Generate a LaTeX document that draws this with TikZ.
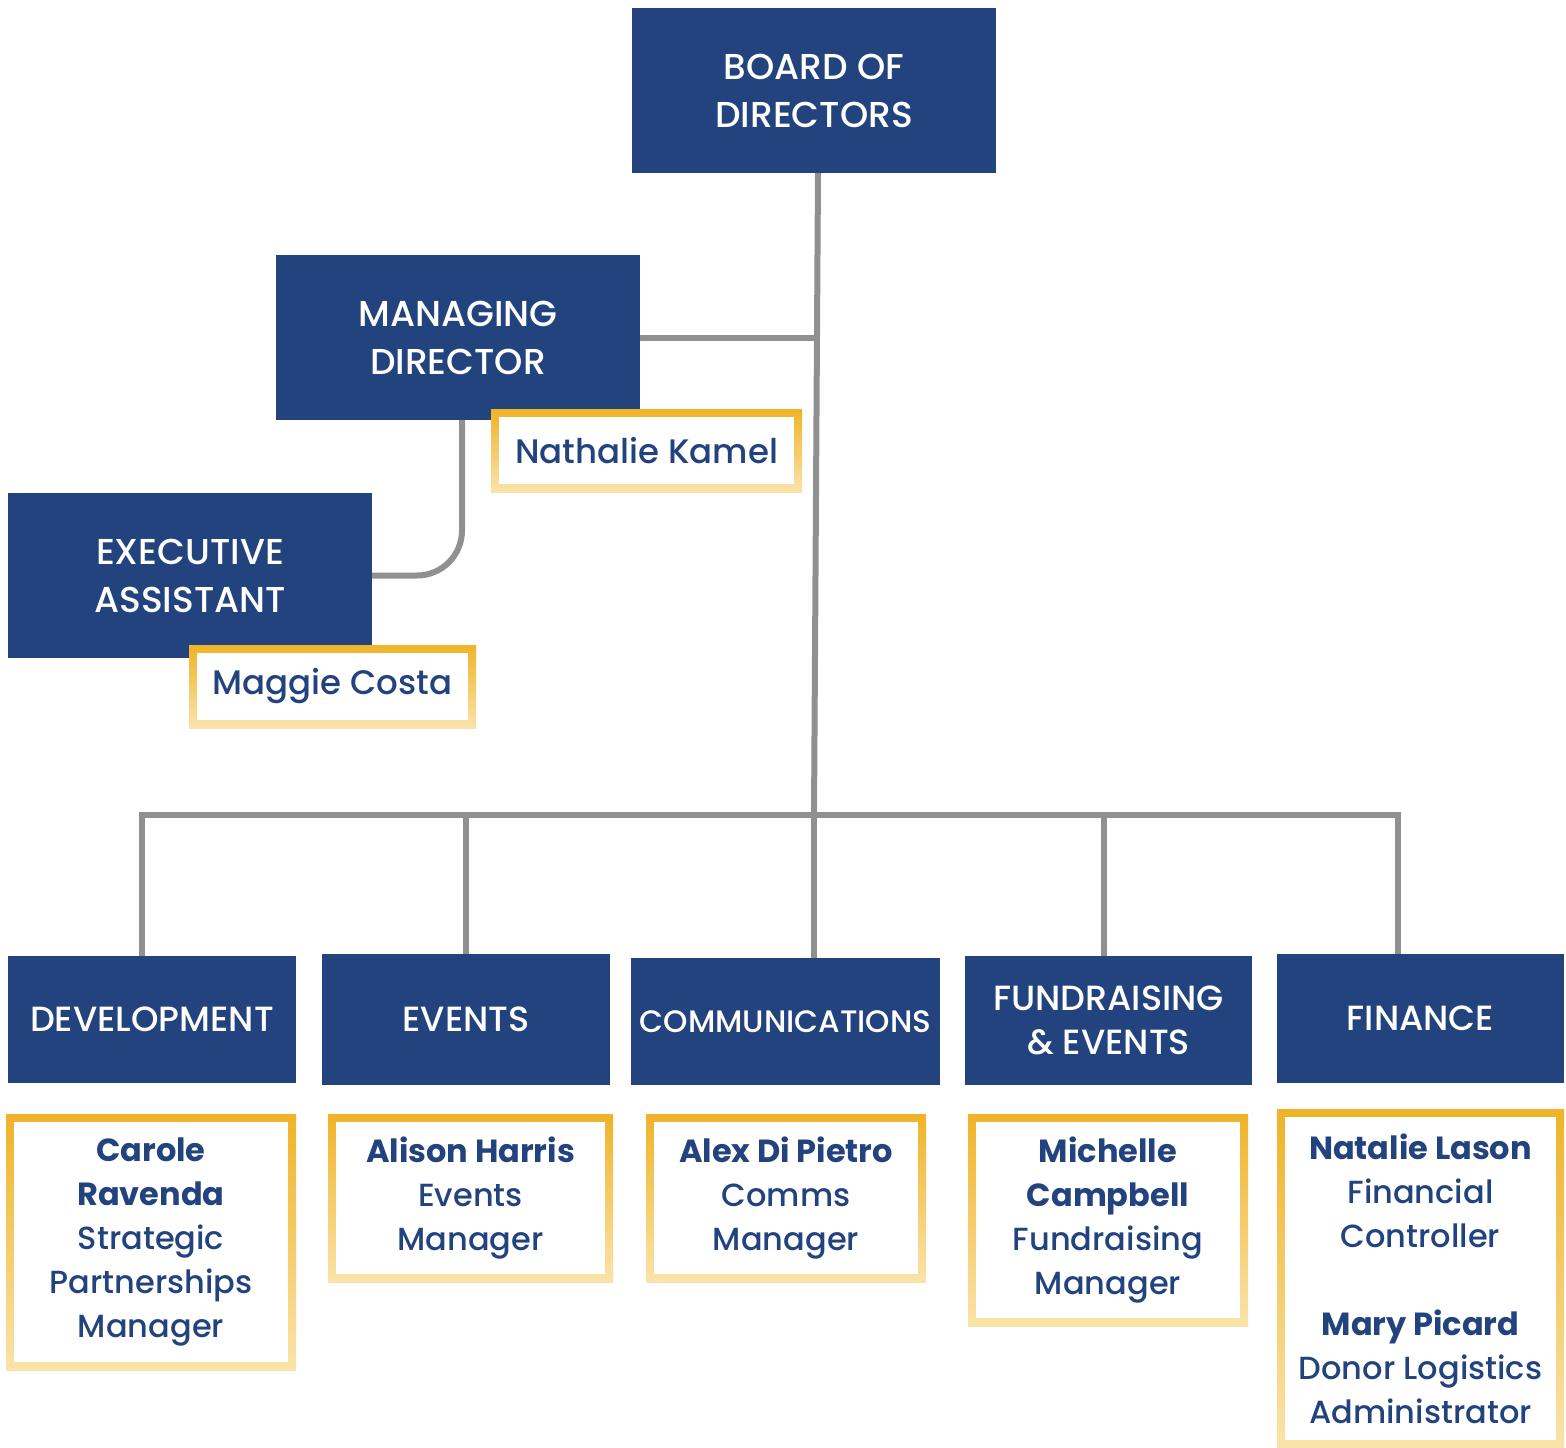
\documentclass[tikz,border=0pt]{standalone}
\usepackage{fontspec}
\setmainfont{Poppins}[UprightFont=* Medium,BoldFont=* Bold]
\usetikzlibrary{backgrounds}
\definecolor{navy}{HTML}{23437F}
\definecolor{goldtop}{HTML}{F0B328}
\definecolor{goldbot}{HTML}{FAE3AA}
\definecolor{linkgray}{HTML}{8E9190}
\tikzset{
  navybox/.style={fill=navy,text=white,inner sep=0pt,align=center,font=\fontsize{36}{48}\selectfont},
  deptbox/.style={navybox,font=\fontsize{35}{44}\selectfont},
  namebox/.style={top color=goldtop,bottom color=goldbot,text=navy,inner sep=0pt,align=center,
    font=\fontsize{32}{44}\selectfont,
    path picture={\fill[white] ([shift={(8pt,-8pt)}]path picture bounding box.north west)
      rectangle ([shift={(-8pt,8pt)}]path picture bounding box.south east);}},
  link/.style={draw=linkgray,line width=6pt,line cap=rect}
}
\begin{document}
\begin{tikzpicture}[x=1pt,y=-1pt]
\useasboundingbox (0,0) rectangle (1566,1448);
% top of the chart
\node[navybox,minimum width=364pt,minimum height=165pt] (board) at (814,90.5) {BOARD OF\\DIRECTORS};
\node[navybox,minimum width=364pt,minimum height=165pt] (mgr) at (458,337.5) {MANAGING\\DIRECTOR};
\node[namebox,font=\fontsize{34}{44}\selectfont,minimum width=311pt,minimum height=83pt] (kamel) at (646.5,450.5) {Nathalie Kamel};
\node[navybox,minimum width=364pt,minimum height=165pt] (exec) at (190,575.5) {EXECUTIVE\\ASSISTANT};
\node[namebox,font=\fontsize{34}{44}\selectfont,minimum width=287pt,minimum height=83pt] (costa) at (332.5,686.5) {Maggie Costa};
% departments
\node[deptbox,minimum width=288pt,minimum height=127pt] (dev) at (152,1019.5) {DEVELOPMENT};
\node[deptbox,minimum width=288pt,minimum height=131pt] (events) at (466,1019.5) {EVENTS};
\node[deptbox,font=\fontsize{31}{44}\selectfont,minimum width=309pt,minimum height=127pt] (comms) at (785.5,1021.5) {COMMUNICATIONS};
\node[deptbox,minimum width=287pt,minimum height=129pt] (fund) at (1108.5,1020.5) {FUNDRAISING\\\& EVENTS};
\node[deptbox,minimum width=287pt,minimum height=129pt] (fin) at (1420.5,1018.5) {FINANCE};
% staff
\node[namebox,minimum width=290pt,minimum height=256pt] (ravenda) at (151,1242) {\textbf{Carole}\\\textbf{Ravenda}\\Strategic\\Partnerships\\Manager};
\node[namebox,minimum width=285pt,minimum height=168pt] (harris) at (470.5,1198) {\textbf{Alison Harris}\\Events\\Manager};
\node[namebox,minimum width=280pt,minimum height=168pt] (pietro) at (786,1198) {\textbf{Alex Di Pietro}\\Comms\\Manager};
\node[namebox,minimum width=280pt,minimum height=212pt] (campbell) at (1108,1220) {\textbf{Michelle}\\\textbf{Campbell}\\Fundraising\\Manager};
\node[namebox,minimum width=287pt,minimum height=339pt] (lason) at (1420.5,1278.5) {\textbf{Natalie Lason}\\Financial\\Controller\\[44pt]\textbf{Mary Picard}\\Donor Logistics\\Administrator};
\coordinate (bus) at (814,815);
\begin{scope}[on background layer]
\draw[link] ([xshift=4pt]board.south) -- (bus);
\draw[link,line cap=butt] (mgr.east) -- ([xshift=2pt]mgr.east -| board.south);
\draw[link,rounded corners=45pt,line cap=butt] ([xshift=4pt]mgr.south) |- (exec.east);
\draw[link] ([xshift=-10pt]dev.north |- bus) -- ([xshift=-22.5pt]fin.north |- bus);
\foreach \n/\dx in {dev/-10,events/0,comms/28.5,fund/-4.5,fin/-22.5}
  \draw[link] ([xshift=\dx pt]\n.north) -- ([xshift=\dx pt]\n.north |- bus);
\end{scope}
\end{tikzpicture}
\end{document}
